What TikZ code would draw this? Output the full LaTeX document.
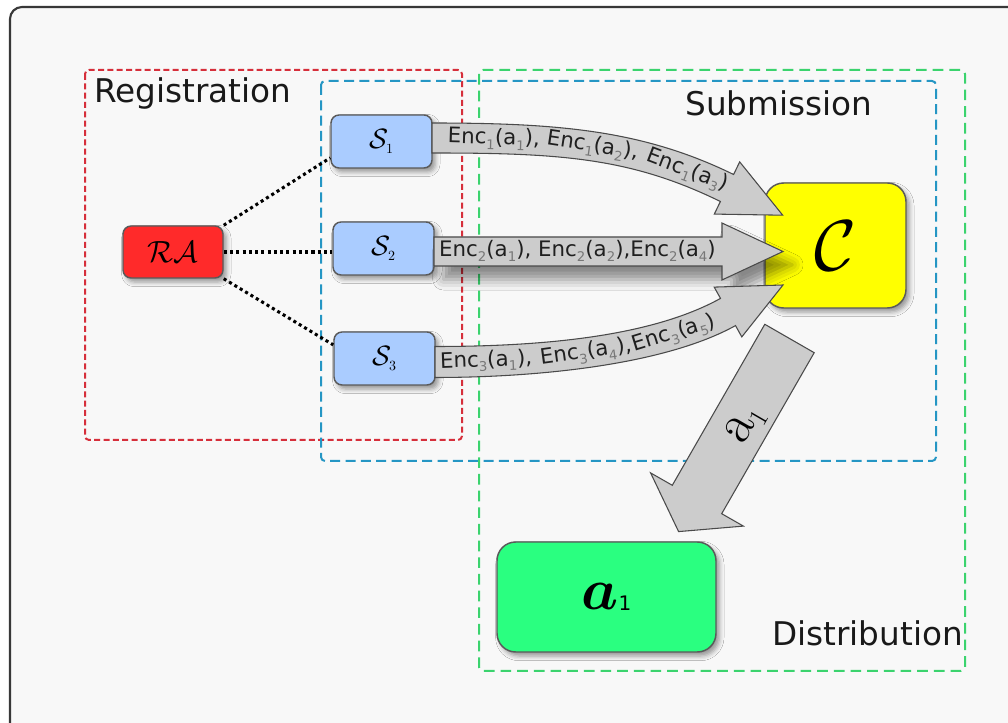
\documentclass[tikz,border=0pt]{standalone}
\usepackage{fontspec}
\usepackage{bm}
\DeclareFontShape{OMS}{cmsy}{m}{n}{<->cmsy10}{}
\DeclareFontShape{OML}{cmm}{m}{it}{<->cmmi10}{}
\DeclareFontShape{OML}{cmm}{b}{it}{<->cmmib10}{}
\DeclareFontShape{OT1}{cmr}{m}{n}{<->cmr10}{}
\newfontfamily\dejavu{DejaVu Sans}
\usetikzlibrary{shadows.blur,calc}
\definecolor{regred}{HTML}{D62F3B}
\definecolor{subblue}{HTML}{2596C4}
\definecolor{distgreen}{HTML}{3BD36E}
\definecolor{rafill}{HTML}{FF2A2A}
\definecolor{sfill}{HTML}{AACCFF}
\definecolor{cfill}{HTML}{FFFF00}
\definecolor{afill}{HTML}{2AFF80}
\definecolor{arrfill}{HTML}{CCCCCC}
\definecolor{arrdraw}{HTML}{4A4A4A}
\definecolor{boxdraw}{HTML}{5A5A5A}
\definecolor{subgray}{HTML}{777777}
\definecolor{bgpanel}{HTML}{F8F8F8}
\newcommand\lsub[1]{\raisebox{-0.45ex}{\fontsize{10}{10}\selectfont\color{subgray}#1}}
\newcommand\enc[2]{Enc\lsub{#1}(a\lsub{#2})}
\begin{document}
\begin{tikzpicture}[x=0.75pt,y=-0.75pt,
  frame/.style={draw=black!78,line width=1.6pt,fill=bgpanel,rounded corners=9pt},
  region/.style={line width=1.5pt,rounded corners=3pt},
  regionlab/.style={font=\dejavu\fontsize{24.5}{24.5}\selectfont,inner sep=0pt,text=black!90},
  nodebox/.style={draw=boxdraw,line width=1.1pt,rounded corners=6pt,inner sep=0pt,
    blur shadow={shadow xshift=2.5pt,shadow yshift=-3pt,shadow blur radius=3.5pt,shadow opacity=40}},
  bigbox/.style={nodebox,rounded corners=14pt},
  dots/.style={line width=2.3pt,dash pattern=on 2.3pt off 2.4pt,black},
  bigarrow/.style={fill=arrfill,draw=arrdraw,line width=0.8pt,line join=miter},
  enclab/.style={font=\dejavu\fontsize{16}{16}\selectfont,text=black!88,inner sep=0pt}
]
\clip (0,0) rectangle (1008,723);
\fill[white] (0,0) rectangle (1008,723);
\draw[frame] (10,7) rectangle (1040,760);

% regions
\draw[region,draw=regred,dash pattern=on 4.5pt off 2.5pt] (85,70) rectangle (462,440);
\draw[region,draw=subblue,dash pattern=on 7.5pt off 4pt] (321,81) rectangle (936,461);
\draw[region,draw=distgreen,dash pattern=on 8pt off 4.5pt] (479,70) rectangle (965,671);
\node[regionlab,anchor=base west] (reglab) at (94,103) {Registration};
\node[regionlab,anchor=base west] (sublab) at (685,116) {Submission};
\node[regionlab,anchor=base west] (distlab) at (772,646) {Distribution};

% nodes
\node[nodebox,fill=rafill,minimum width=100*0.75pt,minimum height=52*0.75pt,
  font=\fontsize{23}{23}\selectfont] (RA) at (173,252) {$\mathcal{RA}$};
\node[nodebox,fill=sfill,minimum width=101*0.75pt,minimum height=53*0.75pt,
  font=\fontsize{21}{21}\selectfont] (S1) at (381.5,141.5) {$\mathcal{S}_{\scriptscriptstyle 1}$};
\node[nodebox,fill=sfill,minimum width=101*0.75pt,minimum height=53*0.75pt,
  font=\fontsize{21}{21}\selectfont] (S2) at (383.5,248.5) {$\mathcal{S}_{\scriptscriptstyle 2}$};
\node[nodebox,fill=sfill,minimum width=101*0.75pt,minimum height=53*0.75pt,
  font=\fontsize{21}{21}\selectfont] (S3) at (384.5,358.5) {$\mathcal{S}_{\scriptscriptstyle 3}$};
\node[bigbox,fill=cfill,minimum width=141*0.75pt,minimum height=125*0.75pt,
  font=\fontsize{54}{54}\selectfont] (C) at (835.5,245.5) {$\mathcal{C}$};
\node[bigbox,fill=afill,minimum width=219*0.75pt,minimum height=110*0.75pt] (A1) at (606.5,597)
  {{\fontsize{44}{44}\selectfont$\bm{a}$}\raisebox{-0.3ex}{\dejavu\fontsize{15}{15}\selectfont 1}};

% dotted links
\draw[dots] (RA.north east) -- ($(S1.south west)!0.2!(S1.north west)$);
\draw[dots] (RA.east) -- (RA.east -| S2.west);
\draw[dots] (RA.south east) -- ($(S3.south west)!0.75!(S3.north west)$);

% big arrows
\draw[bigarrow] (432,123) .. controls (560,123) and (643.6,130.5) .. (733.6,174.5)
  -- (739.7,161.9) -- (782.7,215.2) -- (714.3,214.1) -- (720.4,201.5)
  .. controls (630.4,157.5) and (560,153) .. (432,153) -- cycle;
\draw[bigarrow,blur shadow={shadow xshift=7pt,shadow yshift=-10pt,shadow blur radius=8pt,shadow opacity=45}]
  (434,237) -- (722,237) -- (722,223) -- (783,251.5) -- (722,280) -- (722,266) -- (434,266) -- cycle;
\draw[bigarrow] (435,346.5) .. controls (540,346.5) and (650.5,337.2) .. (720.5,298.4)
  -- (714.2,287.1) -- (783,285) -- (741.8,336.9) -- (735.5,325.6)
  .. controls (665.5,364.4) and (540,377.5) .. (435,377.5) -- cycle;
\draw[bigarrow] (764.8,324.3) -- (814.2,352.7) -- (721.7,513.7) -- (743.4,526.1)
  -- (678.6,531.6) -- (650.6,472.9) -- (672.3,485.3) -- cycle;

% arrow labels
\path (432,138) .. controls (560,138) and (637,144) .. (727,188)
  node[enclab,sloped,pos=0.172] (e11) {\enc11,}
  node[enclab,sloped,pos=0.496] (e12) {\enc12,}
  node[enclab,sloped,pos=0.85] (e13) {\enc13};
\node[enclab] (e2) at (577.5,251) {\enc21, \enc22,\enc24};
\path (435,362) .. controls (540,362) and (658,350.8) .. (728,312)
  node[enclab,sloped,pos=0.16] (e31) {\enc31,}
  node[enclab,sloped,pos=0.472] (e34) {\enc34,}
  node[enclab,sloped,pos=0.775] (e35) {\enc35};
\node[rotate=60,inner sep=0pt] (dlab) at (746,425)
  {\fontsize{42}{42}\selectfont a\raisebox{-0.15em}{\fontsize{20}{20}\selectfont 1}};
\end{tikzpicture}
\end{document}
